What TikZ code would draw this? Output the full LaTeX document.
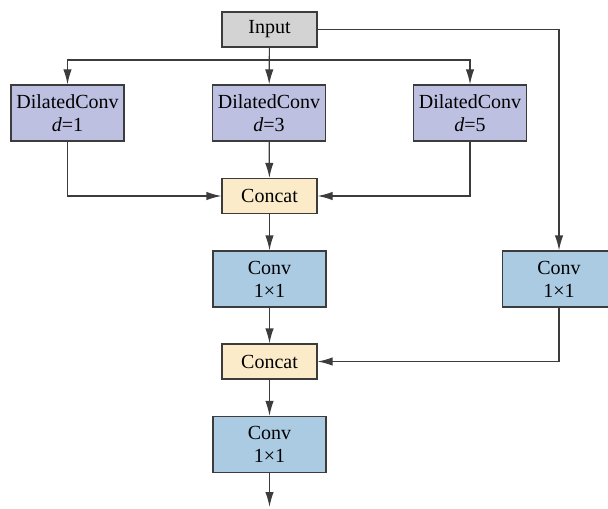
\documentclass[tikz,border=0pt]{standalone}
\usepackage{fontspec}
\setmainfont{Liberation Serif}
\usetikzlibrary{arrows.meta}
\usetikzlibrary{positioning}

\definecolor{ingray}{HTML}{D3D3D3}
\definecolor{dilblue}{HTML}{BEC0E2}
\definecolor{catyellow}{HTML}{FBEBC9}
\definecolor{convblue}{HTML}{ABCBE3}
\definecolor{linegray}{HTML}{3C3C3C}

\begin{document}
\begin{tikzpicture}[x=0.5pt, y=-0.5pt, font=\fontsize{10}{11.5}\selectfont,
every node/.style={draw=linegray, line width=0.6pt, align=center, inner sep=0pt},
bigbox/.style={minimum width=56.5pt, minimum height=28pt},
smallbox/.style={minimum width=47.5pt, minimum height=17.5pt},
conn/.style={draw=linegray, line width=0.6pt, -{Latex[length=7.5pt, width=4.2pt]}}]
\useasboundingbox (0,0) rectangle (608,508);
% nodes
\node[smallbox, fill=ingray] (in) at (269.5,29.5){Input};
\node[bigbox, fill=dilblue] (dc1) at (67.5,113){DilatedConv\\\textit{d}=1};
\node[bigbox, fill=dilblue] (dc3) at (269,113){DilatedConv\\\textit{d}=3};
\node[bigbox, fill=dilblue] (dc5) at (470,113){DilatedConv\\\textit{d}=5};
\node[smallbox, fill=catyellow] (cat1) at (269.5,196){Concat};
\node[bigbox, fill=convblue] (cv1) at (269.5,279){Conv\\1×1};
\node[bigbox, fill=convblue] (cvr) at (559,279){Conv\\1×1};
\node[smallbox, fill=catyellow] (cat2) at (269.5,361.5){Concat};
\node[bigbox, fill=convblue] (cv3) at (269.5,444.5){Conv\\1×1};
\coordinate (split) at (269.5,60);
\coordinate (out) at (269.5,507);
% connectors
\draw[conn] (in) -- (dc3);
\draw[conn] (split) -| (dc1.north);
\draw[conn] (split) -| (dc5.north);
\draw[conn] (in.east) -| (cvr.north);
\draw[conn] (dc1.south) |- (cat1.west);
\draw[conn] (dc3) -- (cat1);
\draw[conn] (dc5.south) |- (cat1.east);
\draw[conn] (cat1) -- (cv1);
\draw[conn] (cv1) -- (cat2);
\draw[conn] (cvr.south) |- (cat2.east);
\draw[conn] (cat2) -- (cv3);
\draw[conn] (cv3) -- (out);
\end{tikzpicture}
\end{document}
